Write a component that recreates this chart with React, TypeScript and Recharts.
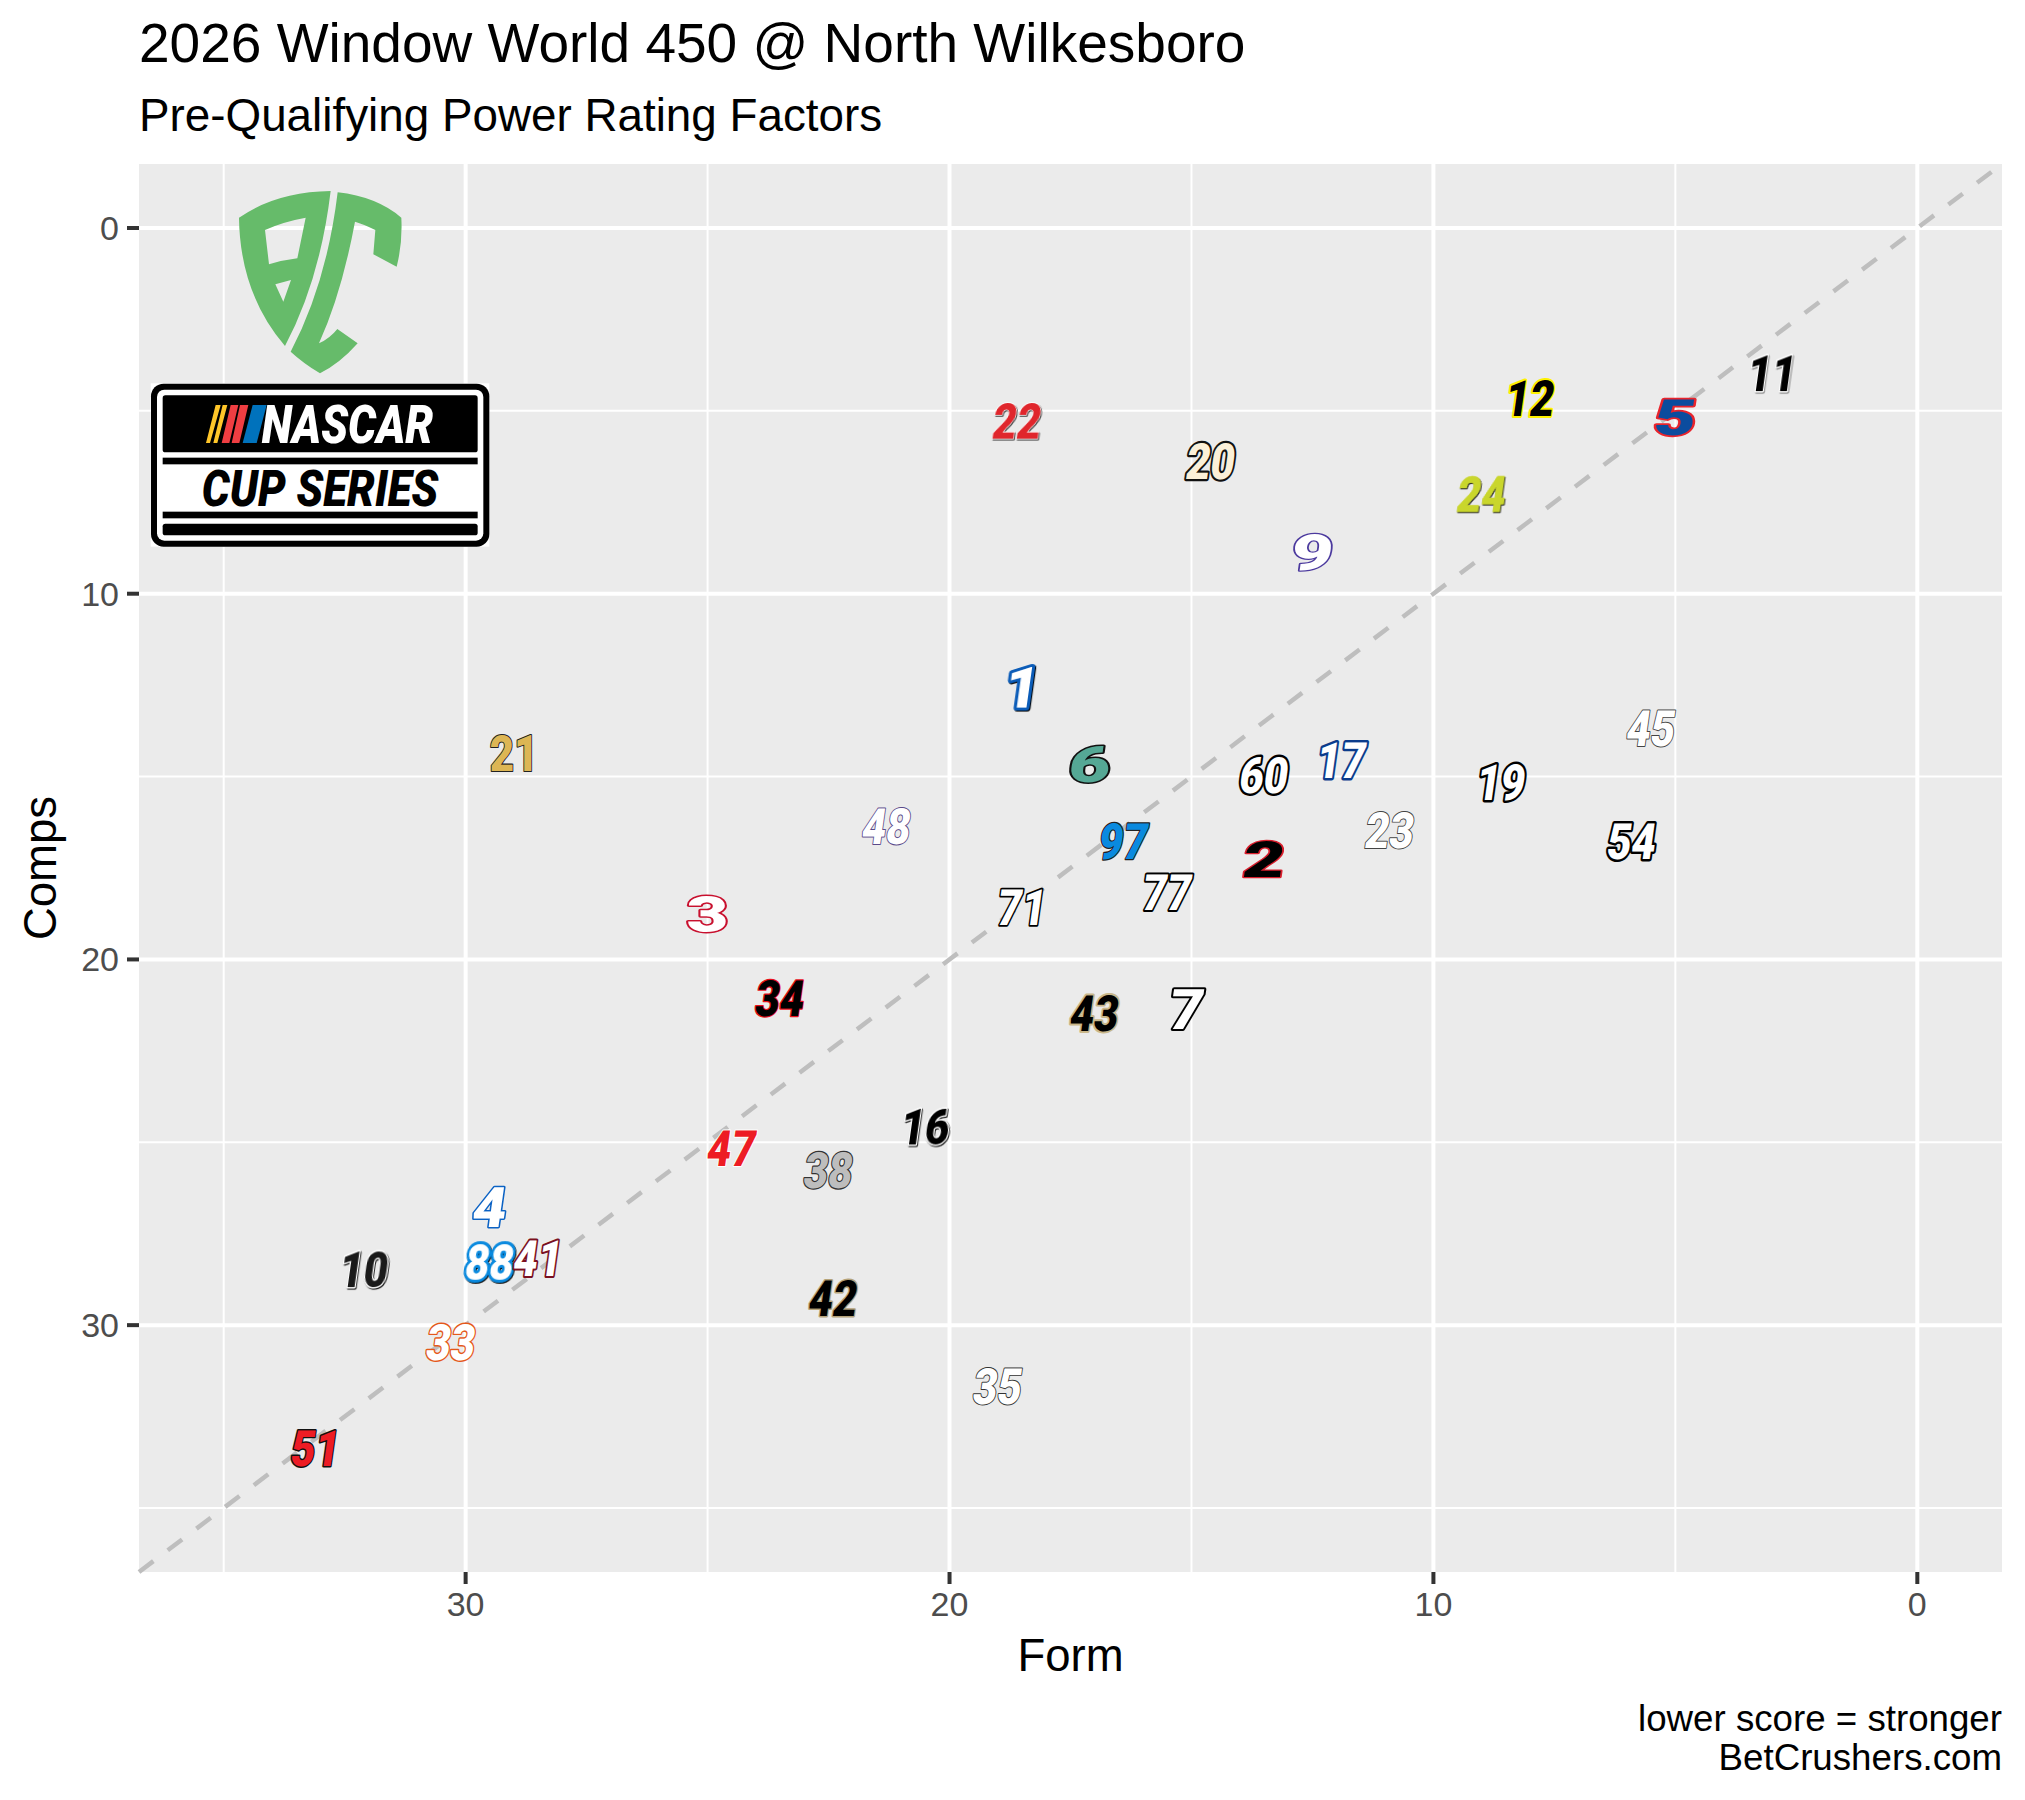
import {
  ScatterChart, Scatter, XAxis, YAxis, CartesianGrid, ReferenceLine, Label,
} from 'recharts';

const carNumbers = ['11', '5', '12', '22', '20', '24', '9', '1', '45', '21', '6', '60', '17', '19', '48', '23', '54', '97', '2', '77', '71', '3', '34', '7', '43', '16', '47', '38', '4', '10', '88', '41', '42', '33', '35', '51'];
const formScores = [3, 5, 8, 18.6, 14.6, 9, 12.5, 18.5, 5.5, 29, 17.1, 13.5, 11.9, 8.6, 21.3, 10.9, 5.9, 16.4, 13.5, 15.5, 18.5, 25, 23.5, 15.1, 17, 20.5, 24.5, 22.5, 29.5, 32.1, 29.5, 28.5, 22.4, 30.3, 19, 33.1];
const compsScores = [4, 5.2, 4.7, 5.3, 6.4, 7.3, 8.9, 12.6, 13.7, 14.4, 14.7, 15, 14.6, 15.2, 16.4, 16.5, 16.8, 16.8, 17.3, 18.2, 18.6, 18.8, 21.1, 21.4, 21.5, 24.6, 25.2, 25.8, 26.8, 28.5, 28.3, 28.2, 29.3, 30.5, 31.7, 33.4];

const majorTicks = [0, 10, 20, 30];
const minorTicks = [5, 15, 25, 35];
const DOMAIN = [-1.75, 36.75];

const points = carNumbers.map((car, i) => ({ car, form: formScores[i], comps: compsScores[i] }));

// fill, outline, outline width, shadow colour
const numberLook: Record<string, [string, string, number, string?]> = {
  11: ['#000000', '#FFFFFF', 3, '#777777'],
  5: ['#0B4C9E', '#E8242C', 3.5],
  12: ['#000000', '#FFF200', 4],
  22: ['#E0262C', '#FFFFFF', 1.5, '#333333'],
  20: ['#FBF0D8', '#111111', 4.5],
  24: ['#C9D62C', '#C9D62C', 0.5, '#222222'],
  9: ['#FFFFFF', '#4C3A9E', 2.5],
  1: ['#FFFFFF', '#0B5CB8', 6, '#000000'],
  45: ['#FFFFFF', '#444444', 2],
  21: ['#DDB654', '#222222', 2],
  6: ['#55A895', '#111111', 3],
  60: ['#FFFFFF', '#000000', 5],
  17: ['#FFFFFF', '#0B3C8C', 5],
  19: ['#FFFFFF', '#000000', 5],
  48: ['#FFFFFF', '#5A4A8A', 2],
  23: ['#FFFFFF', '#444444', 2],
  54: ['#FFFFFF', '#000000', 5],
  97: ['#0A8ADF', '#222222', 2.5],
  2: ['#000000', '#D81E2C', 2.5],
  77: ['#FFFFFF', '#000000', 4],
  71: ['#FFFFFF', '#000000', 3.5],
  3: ['#FFFFFF', '#C8102E', 3],
  34: ['#000000', '#E8101C', 2.5],
  7: ['#FFFFFF', '#000000', 4],
  43: ['#000000', '#C9B78A', 4],
  16: ['#000000', '#FFFFFF', 3, '#000000'],
  47: ['#ED1C24', '#FFFFFF', 2],
  38: ['#BDBDBD', '#333333', 2.5],
  4: ['#FFFFFF', '#0B62C4', 3],
  10: ['#1A1A1A', '#FFFFFF', 3, '#000000'],
  88: ['#FFFFFF', '#0A8ADF', 6, '#000000'],
  41: ['#FFFFFF', '#7A1020', 4],
  42: ['#000000', '#B5A37A', 3],
  33: ['#FFFFFF', '#E4581B', 3],
  35: ['#FFFFFF', '#333333', 2],
  51: ['#ED1C24', '#111111', 3],
};

const uprightCars = ['21', '3'];
const narrowCars = ['1', '7', '4'];

function CarNumber({ cx, cy, payload }: any) {
  const [fill, outline, width, shadow] = numberLook[payload.car];
  const narrow = narrowCars.includes(payload.car);
  const stretch = narrow ? 1.05 : payload.car.length === 1 ? 1.45 : 0.84;
  const slant = uprightCars.includes(payload.car) ? 0 : -8;
  return (
    <g transform={`translate(${cx},${cy}) skewX(${slant}) scale(${stretch},1)`}>
      <text
        textAnchor="middle"
        dy="0.33em"
        fontFamily="Roboto, 'Liberation Sans'"
        fontSize={narrow ? 56 : 50}
        fontWeight={900}
        fill={fill}
        stroke={outline}
        strokeWidth={width}
        strokeLinejoin="round"
        style={{
          paintOrder: 'stroke',
          filter: shadow ? `drop-shadow(1.5px 1.5px 0 ${shadow})` : undefined,
        }}
      >
        {payload.car}
      </text>
    </g>
  );
}

function Logos() {
  return (
    <g transform="translate(100,150) scale(0.33333)">
      <path
        fill="#66BB6A"
        fillRule="evenodd"
        d="M417 203 Q530 125 692 123 Q660 390 555 588 Q420 430 417 203 Z M495 240 L507 343 Q550 330 592 325 L617 203 Q550 215 495 240 Z M526 403 L550 455 L573 390 Z"
      />
      <path
        fill="#66BB6A"
        d="M713 127 Q830 140 904 203 Q908 280 890 350 L820 313 L826 240 Q790 222 765 215 Q725 430 657 580 Q690 565 712 537 L773 580 Q720 640 660 670 Q610 640 572 605 Q680 400 713 127 Z"
      />
      <rect x={152} y={700} width={1016} height={490} fill="#FFFFFF" />
      <rect x={153} y={701} width={1015} height={489} rx={38} fill="#000000" />
      <rect x={171} y={719} width={979} height={453} rx={22} fill="#FFFFFF" />
      <rect x={188} y={736} width={945} height={171} rx={8} fill="#000000" />
      <rect x={188} y={923} width={945} height={20} fill="#000000" />
      <rect x={188} y={1085} width={945} height={20} fill="#000000" />
      <rect x={188} y={1121} width={945} height={35} rx={8} fill="#000000" />
      <path fill="#FFC629" d="M318 879 L330 879 L362 765 L347 765 Z M340 879 L352 879 L382 765 L368 765 Z" />
      <path fill="#EF3E42" d="M365 879 L388 879 L415 765 L392 765 Z M395 879 L418 879 L445 765 L420 765 Z" />
      <path fill="#0072BC" d="M428 879 L470 879 L500 765 L458 765 Z" />
      <text
        x={485}
        y={879}
        fontFamily="'Roboto', 'Liberation Sans'"
        fontSize={158}
        fontWeight={900}
        fontStyle="italic"
        fill="#FFFFFF"
        textLength={515}
        lengthAdjust="spacingAndGlyphs"
      >
        NASCAR
      </text>
      <text
        x={305}
        y={1068}
        fontFamily="'Roboto', 'Liberation Sans'"
        fontSize={152}
        fontWeight={900}
        fontStyle="italic"
        fill="#000000"
        textLength={710}
        lengthAdjust="spacingAndGlyphs"
      >
        CUP SERIES
      </text>
    </g>
  );
}

export default function App() {
  return (
    <div style={{ position: 'absolute', left: 0, top: 0, width: 2025, height: 1800, background: '#FFFFFF', fontFamily: "'Liberation Sans', Arial, sans-serif" }}>
      <ScatterChart width={2025} height={1800} margin={{ top: 164, right: 23, bottom: 0, left: 0 }}>
        <CartesianGrid fill="#EBEBEB" stroke="#FFFFFF" strokeWidth={2} verticalValues={minorTicks} horizontalValues={minorTicks} />
        <CartesianGrid stroke="#FFFFFF" strokeWidth={4} verticalValues={majorTicks} horizontalValues={majorTicks} />
        <XAxis
          type="number"
          dataKey="form"
          domain={DOMAIN}
          reversed
          allowDataOverflow
          ticks={majorTicks}
          height={228}
          axisLine={false}
          tickSize={12}
          tickMargin={8}
          tickLine={{ stroke: '#333333', strokeWidth: 4 }}
          tick={{ fill: '#4D4D4D', fontSize: 34 }}
        >
          <Label value="Form" position="insideTop" offset={67} fill="#000000" fontSize={45.5} />
        </XAxis>
        <YAxis
          type="number"
          dataKey="comps"
          domain={DOMAIN}
          reversed
          allowDataOverflow
          ticks={majorTicks}
          width={139}
          axisLine={false}
          tickSize={12}
          tickMargin={8}
          tickLine={{ stroke: '#333333', strokeWidth: 4 }}
          tick={{ fill: '#4D4D4D', fontSize: 34 }}
        >
          <Label value="Comps" angle={-90} position="insideLeft" offset={40} fill="#000000" fontSize={45.5} style={{ textAnchor: 'middle' }} />
        </YAxis>
        <ReferenceLine
          segment={[{ x: DOMAIN[1], y: DOMAIN[1] }, { x: DOMAIN[0], y: DOMAIN[0] }]}
          stroke="#BEBEBE"
          strokeWidth={4.5}
          strokeDasharray="18 18"
        />
        <Scatter data={points} shape={CarNumber} isAnimationActive={false} />
      </ScatterChart>
      <svg width={2025} height={1800} style={{ position: 'absolute', left: 0, top: 0, pointerEvents: 'none' }}>
        <Logos />
        <text x={139} y={62} fontSize={55} fill="#000000">2026 Window World 450 @ North Wilkesboro</text>
        <text x={139} y={131} fontSize={45.8} fill="#000000">Pre-Qualifying Power Rating Factors</text>
        <text x={2002} y={1731} fontSize={36.7} textAnchor="end" fill="#000000">lower score = stronger</text>
        <text x={2002} y={1770} fontSize={36.7} textAnchor="end" fill="#000000">BetCrushers.com</text>
      </svg>
    </div>
  );
}
